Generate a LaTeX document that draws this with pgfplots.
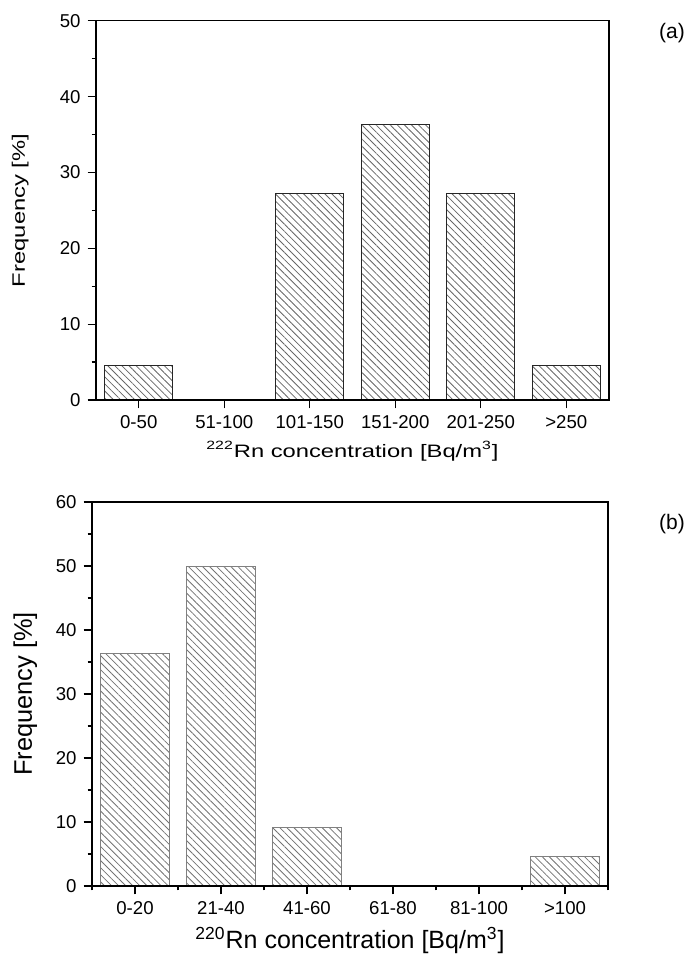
\documentclass[border=0pt]{standalone}
\usepackage{pgfplots}
\pgfplotsset{compat=1.18}
\usepackage{fontspec}
\setmainfont{Liberation Sans}
\newfontfamily\widesans[FakeStretch=1.32]{Liberation Sans}
\usetikzlibrary{patterns.meta}

\definecolor{edgeA}{gray}{0.15}
\definecolor{hatchA}{gray}{0.40}
\definecolor{edgeB}{gray}{0.50}
\definecolor{hatchB}{gray}{0.45}

\pgfplotsset{
  radon/.style={
    scale only axis,
    axis on top,
    ybar, bar width=0.8,
    xmin=-0.5, xmax=5.5,
    xtick={0,...,5},
    tick align=outside,
    tick pos=left,
    minor y tick num=1,
    major tick length=4.2pt,
    minor tick length=2.2pt,
    axis line style={line width=0.6pt},
    every tick/.style={black, line width=0.6pt},
    /pgf/number format/assume math mode=true,
    tick label style={font=\fontsize{9.3}{11}\selectfont},
    ylabel style={at={(axis description cs:0,0.5)}, anchor=base},
  },
}

\begin{document}
\begin{tikzpicture}
\path[use as bounding box] (0,0) rectangle (346pt,-479pt);

% (a) 222Rn
\begin{axis}[radon,
  at={(48pt,-200pt)}, anchor=south west,
  width=256.5pt, height=189.6pt,
  ymin=0, ymax=50, ytick={0,10,...,50},
  xticklabels={0-50, 51-100, 101-150, 151-200, 201-250, >250},
  xlabel={\textsuperscript{222}Rn concentration [Bq/m\textsuperscript{3}]},
  xlabel style={at={(axis description cs:0.5,0)}, anchor=base, yshift=-28.5pt, font=\widesans\fontsize{9}{11}\selectfont},
  ylabel={Frequency [\%]},
  ylabel style={yshift=35.5pt, font=\widesans\fontsize{9}{11}\selectfont},
]
\addplot[draw=edgeA, line width=0.5pt, pattern={Lines[angle=-45,distance=2.5pt,line width=0.4pt]}, pattern color=hatchA]
  coordinates {(0,4.55) (1,0) (2,27.27) (3,36.36) (4,27.27) (5,4.55)};
\end{axis}

% (b) 220Rn
\begin{axis}[radon,
  at={(46pt,-443pt)}, anchor=south west,
  width=258pt, height=192pt,
  ymin=0, ymax=60, ytick={0,10,...,60},
  minor xtick={-0.5,0.5,...,5.5},
  xticklabels={0-20, 21-40, 41-60, 61-80, 81-100, >100},
  xlabel={\textsuperscript{220}Rn concentration [Bq/m\textsuperscript{3}]},
  xlabel style={at={(axis description cs:0.5,0)}, anchor=base, yshift=-31pt, font=\fontsize{12.5}{15}\selectfont},
  ylabel={Frequency [\%]},
  ylabel style={yshift=30pt, font=\fontsize{12.7}{15}\selectfont},
]
\addplot[draw=edgeB, line width=0.5pt, pattern={Lines[angle=-45,distance=2.5pt,line width=0.4pt]}, pattern color=hatchB]
  coordinates {(0,36.36) (1,50) (2,9.09) (3,0) (4,0) (5,4.55)};
\end{axis}

\node[font=\fontsize{10.5}{12}\selectfont] at (336pt,-16.5pt) {(a)};
\node[font=\fontsize{10.5}{12}\selectfont] at (336pt,-262pt) {(b)};
\end{tikzpicture}
\end{document}
